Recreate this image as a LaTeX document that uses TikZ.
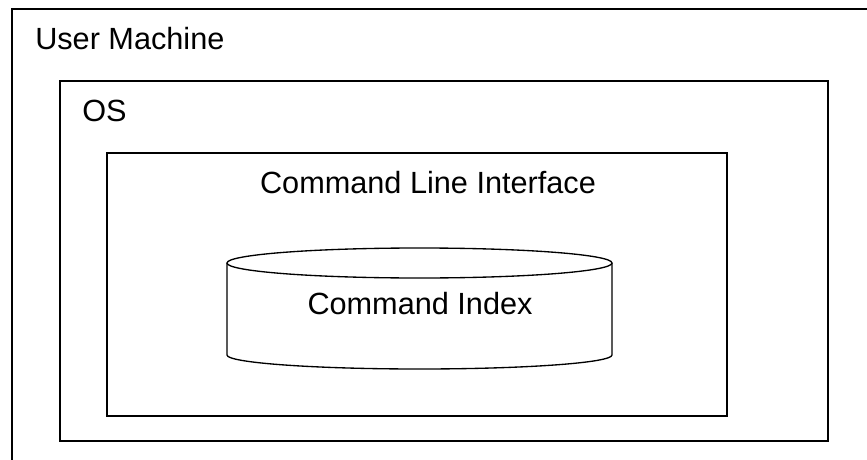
\documentclass[tikz,border=0pt]{standalone}
\usepackage{fontspec}
\setmainfont{Liberation Sans}
\tikzset{
  box/.style={draw=black,line width=1.5pt},
  lbl/.style={inner sep=0pt,font=\fontsize{23}{28}\selectfont}
}

\begin{document}
\begin{tikzpicture}[x=0.75pt,y=0.75pt,yscale=-1,xscale=1]
\useasboundingbox (0,0) rectangle (867,460);
\clip (0,0) rectangle (867,460);

%Shape: Rectangle [id:user machine]
\draw [box] (12,9) rectangle (885,480) ;
%Shape: Rectangle [id:os]
\draw [box] (60,81) rectangle (828,441) ;
%Shape: Rectangle [id:cli]
\draw [box] (107,153) rectangle (727,416) ;

%Shape: Can [id:command index]
\draw [line width=1pt] (227,263) -- (227,355) arc[start angle=180,end angle=0,x radius=192.5,y radius=14] -- (612,263) ;
\draw [line width=1pt,fill=white] (419.5,263) ellipse [x radius=192.5,y radius=15] ;

%Labels
\node [lbl,anchor=base west] (usermachine) at (35,50) {User Machine};
\node [lbl,anchor=base west] (os) at (82,121) {OS};
\node [lbl,anchor=base] (cli) at (428,193) {Command Line Interface};
\node [lbl,anchor=base] (cmdindex) at (420,314) {Command Index};

\end{tikzpicture}
\end{document}
